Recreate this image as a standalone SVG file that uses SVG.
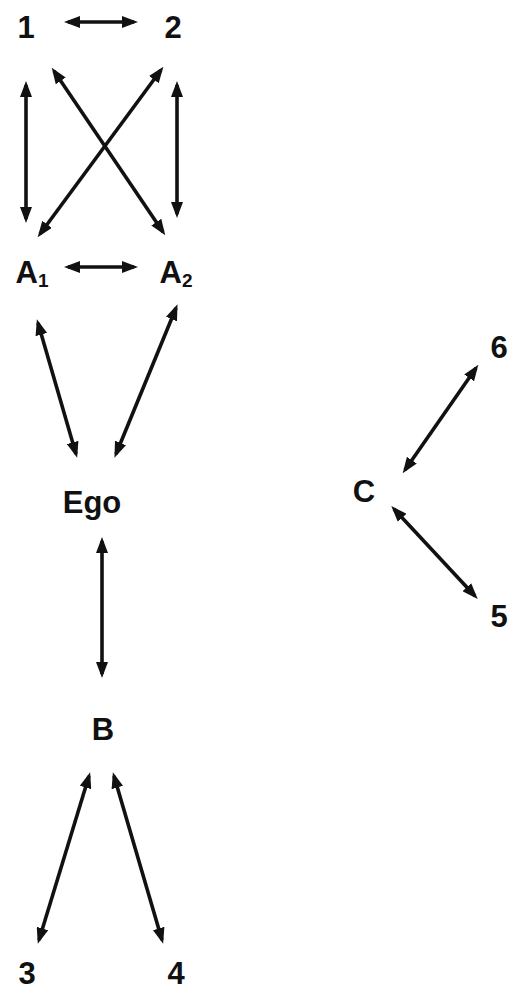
<svg xmlns="http://www.w3.org/2000/svg" width="509" height="991" viewBox="0 0 509 991">
<defs>
<marker id="ah" viewBox="0 0 16 12" refX="12" refY="6" markerWidth="16" markerHeight="12" markerUnits="userSpaceOnUse" orient="auto-start-reverse">
<path d="M0,0 L16,6 L0,12 z" fill="#111"/>
</marker>
<style>
.lbl{font-family:"Liberation Sans",Arial,sans-serif;font-weight:bold;font-size:31px;fill:#111;text-anchor:middle}
.sub{font-size:19px}
.cn line{stroke:#111;stroke-width:3.6;marker-start:url(#ah);marker-end:url(#ah)}
</style>
</defs>
<rect width="509" height="991" fill="#fff"/>
<g id="n1"><text class="lbl" x="26" y="38">1</text></g>
<g id="n2"><text class="lbl" x="173" y="38">2</text></g>
<g id="nA1"><text class="lbl" x="32" y="283">A<tspan class="sub" dy="4">1</tspan></text></g>
<g id="nA2"><text class="lbl" x="176" y="283">A<tspan class="sub" dy="4">2</tspan></text></g>
<g id="nEgo"><text class="lbl" x="92" y="513">Ego</text></g>
<g id="nB"><text class="lbl" x="103" y="740">B</text></g>
<g id="n3"><text class="lbl" x="27" y="984">3</text></g>
<g id="n4"><text class="lbl" x="176" y="984">4</text></g>
<g id="nC"><text class="lbl" x="364" y="502">C</text></g>
<g id="n6"><text class="lbl" x="499" y="358">6</text></g>
<g id="n5"><text class="lbl" x="499" y="627">5</text></g>
<g id="connectors" class="cn">
<line x1="68" y1="22" x2="134" y2="22"/>
<line x1="26" y1="85" x2="26" y2="219"/>
<line x1="177" y1="85" x2="177" y2="214"/>
<line x1="54" y1="71" x2="163" y2="232"/>
<line x1="161" y1="70" x2="40" y2="234"/>
<line x1="68" y1="267" x2="134" y2="267"/>
<line x1="38" y1="323" x2="76" y2="454"/>
<line x1="176" y1="308" x2="116" y2="454"/>
<line x1="102" y1="541" x2="102" y2="674"/>
<line x1="89" y1="776" x2="39" y2="940"/>
<line x1="114" y1="776" x2="162" y2="940"/>
<line x1="405" y1="470" x2="476" y2="368"/>
<line x1="394" y1="509" x2="475" y2="596"/>
</g>
</svg>
